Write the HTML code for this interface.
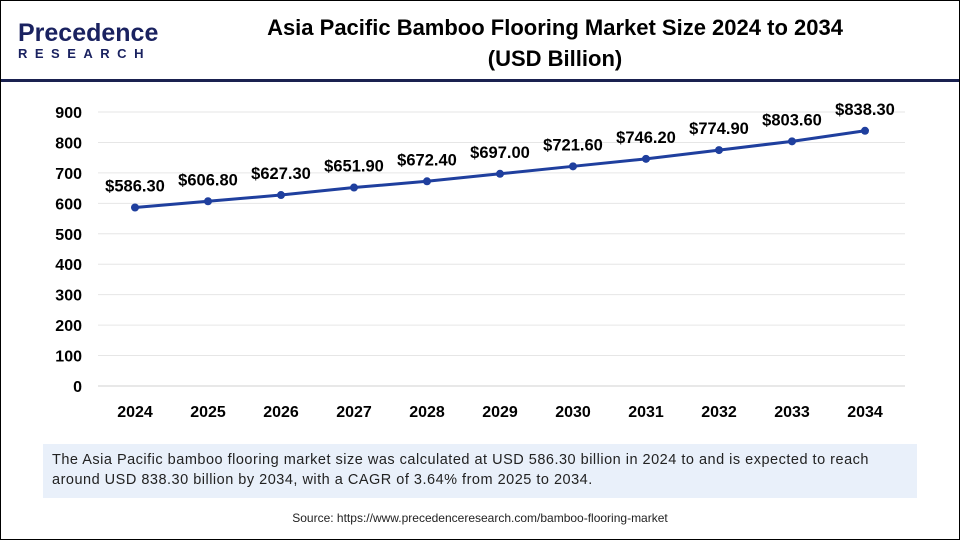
<!DOCTYPE html>
<html><head><meta charset="utf-8"><style>
body{margin:0;width:960px;height:540px;overflow:hidden;background:#fff;font-family:"Liberation Sans",sans-serif}
#frame{position:absolute;left:0;top:0;width:958px;height:538px;border:1px solid #000}
</style></head><body>
<div id="frame"></div>
<div style="position:absolute;left:18px;top:20px">
<div style="font-size:25px;font-weight:bold;color:#1a2260;line-height:26px">Precedence</div>
<div style="font-size:13px;font-weight:bold;color:#1a2260;letter-spacing:7.5px;line-height:16px">RESEARCH</div>
</div>
<div style="position:absolute;left:220px;top:12px;width:670px;text-align:center;font-size:22px;font-weight:bold;line-height:31px;color:#000">Asia Pacific Bamboo Flooring Market Size 2024 to 2034<br>(USD Billion)</div>
<div style="position:absolute;left:1px;top:79px;width:958px;height:3px;background:#1a2150"></div>
<svg id="chart" width="960" height="540" style="position:absolute;left:0;top:0"></svg>
<div style="position:absolute;left:43px;top:444px;width:874px;height:54px;background:#e9f0fa;font-size:14.5px;letter-spacing:0.5px;line-height:20px;color:#222"><div style="padding:6px 0 0 9px;width:830px">The Asia Pacific bamboo flooring market size was calculated at USD 586.30 billion in 2024 to and is expected to reach around USD 838.30 billion by 2034, with a CAGR of 3.64% from 2025 to 2034.</div></div>
<div style="position:absolute;left:0;top:511px;width:960px;text-align:center;font-size:12px;color:#222">Source: https://www.precedenceresearch.com/bamboo-flooring-market</div>
<script>
const years=["2024","2025","2026","2027","2028","2029","2030","2031","2032","2033","2034"];
const values=[586.3,606.8,627.3,651.9,672.4,697.0,721.6,746.2,774.9,803.6,838.3];
const valueLabels=["$586.30","$606.80","$627.30","$651.90","$672.40","$697.00","$721.60","$746.20","$774.90","$803.60","$838.30"];
const yTicks=[0,100,200,300,400,500,600,700,800,900];
const svg=document.getElementById('chart');const NS='http://www.w3.org/2000/svg';
const x=i=>135+i*73;const y=v=>386-v*(274/900);
function mk(t,a){const e=document.createElementNS(NS,t);for(const k in a)e.setAttribute(k,a[k]);svg.appendChild(e);return e;}
yTicks.forEach(v=>{
 if(v>0){const g=mk('line',{x1:98,x2:905,y1:y(v),y2:y(v),stroke:'#e6e6e6','stroke-width':1});
 
 }
 const t=mk('text',{x:82,y:y(v)+6,'text-anchor':'end','font-size':16,'font-weight':'bold',fill:'#000'});t.textContent=v;
 
 
});
const ax=mk('line',{x1:98,x2:905,y1:386,y2:386,stroke:'#d0d0d0','stroke-width':1});


years.forEach((yr,i)=>{const t=mk('text',{x:x(i),y:417,'text-anchor':'middle','font-size':16,'font-weight':'bold',fill:'#000'});t.textContent=yr;
 
 });
const pl=mk('polyline',{points:values.map((v,i)=>x(i)+','+y(v)).join(' '),fill:'none',stroke:'#1f3f9e','stroke-width':3});


values.forEach((v,i)=>{
 const c=mk('circle',{cx:x(i),cy:y(v),r:4,fill:'#1f3f9e'});
 
 
 const t=mk('text',{x:x(i),y:y(v)-16,'text-anchor':'middle','font-size':16.5,'font-weight':'bold',fill:'#000'});t.textContent=valueLabels[i];
 
 
});
</script>
</body></html>
